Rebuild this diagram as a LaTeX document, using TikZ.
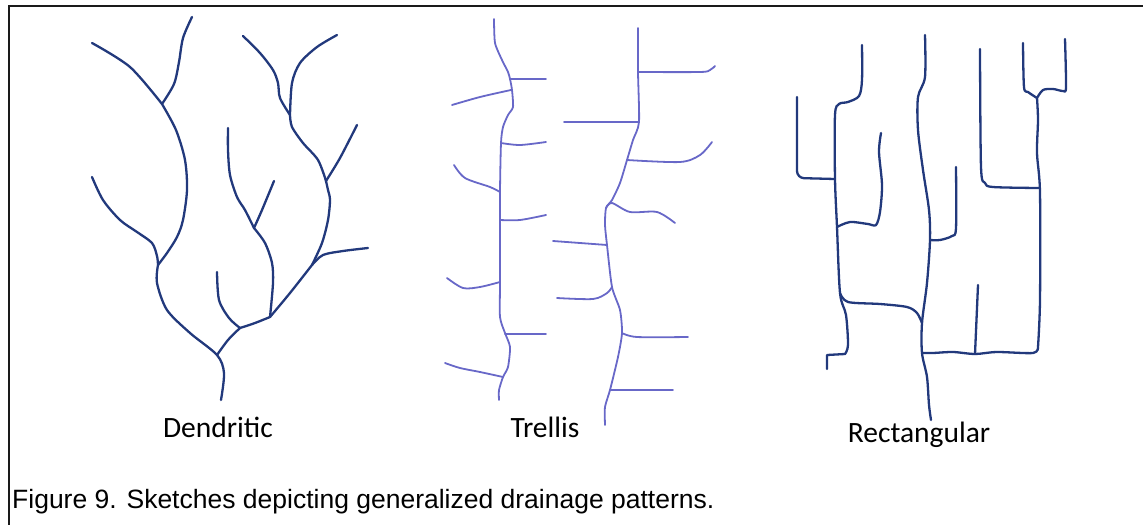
\documentclass[tikz,border=0pt]{standalone}
\usepackage{fontspec}
\setmainfont{Liberation Sans}
\newfontfamily\labelfont{Carlito}
\definecolor{navy}{HTML}{22397C}
\definecolor{trellisblue}{HTML}{6868C8}
\definecolor{framegray}{HTML}{1A1A1A}
\begin{document}
\begin{tikzpicture}[x=1pt,y=-1pt,
  stream/.style={draw=navy,line width=2.3pt,line cap=round,line join=round},
  trel/.style={draw=trellisblue,line width=1.8pt,line cap=round,line join=round},
  patname/.style={font=\labelfont\fontsize{29.5}{32}\selectfont,anchor=base,inner sep=0pt},
  caption/.style={font=\fontsize{26.5}{30}\selectfont,anchor=base west,inner sep=0pt}]
\useasboundingbox (0,0) rectangle (1143,525);
% frame
\draw[framegray,line width=2.8pt] (8,6) -- (1143,6);
\draw[framegray,line width=2.8pt] (9,6) -- (9,525);

% ---------------- dendritic ----------------
\begin{scope}[stream]
\draw plot[smooth] coordinates {(92,43) (130,67) (162,104)};
\draw plot[smooth] coordinates {(192,17) (183,38) (179,62) (174,84) (162,104)};
\draw plot[smooth] coordinates {(162,104) (176,130) (185,160) (187,190) (183,220) (177,237) (167,253) (158,265)};
\draw plot[smooth] coordinates {(92,177) (103,200) (120,220) (137,232) (152,243) (157,256) (158,265)};
\draw plot[smooth] coordinates {(158,265) (157,283) (167,310) (190,333) (217,355) (224,373) (221,400)};
\draw plot[smooth] coordinates {(240,328) (228,340) (217,355)};
\draw plot[smooth] coordinates {(217,272) (219,300) (229,318) (240,328)};
\draw plot[smooth] coordinates {(240,328) (255,323) (270,317)};
\draw plot[smooth] coordinates {(270,317) (290,293) (312,265)};
\draw plot[smooth] coordinates {(312,265) (323,255) (343,251) (368,248)};
\draw plot[smooth] coordinates {(312,265) (322,243) (328,220) (330,200) (328,190) (326,181)};
\draw plot[smooth] coordinates {(326,181) (340,158) (357,125)};
\draw plot[smooth] coordinates {(326,181) (318,160) (303,143) (292,127) (290,115)};
\draw plot[smooth] coordinates {(290,115) (280,98) (278,83) (273,70) (260,53) (243,36)};
\draw plot[smooth] coordinates {(290,115) (292,83) (300,63) (317,47) (337,35)};
\draw plot[smooth] coordinates {(270,317) (273,283) (272,263) (265,243) (254,228)};
\draw plot[smooth] coordinates {(254,228) (245,210) (237,197) (230,175) (228,150) (228,128)};
\draw plot[smooth] coordinates {(254,228) (262,210) (274,181)};
\end{scope}

% ---------------- trellis ----------------
\begin{scope}[trel]
% western strike valley
\draw plot[smooth,tension=0.4] coordinates {(494,19) (495,43) (502,60) (508,72) (510,79) (512,90) (513,107) (508,115) (503,127) (501,143) (500,193) (500,282) (500,317) (505,333) (510,347) (508,367) (503,377) (499,390) (499,400)};
\draw (510,79) -- (546,79);
\draw plot[smooth] coordinates {(511,90) (480,97) (452,105)};
\draw plot[smooth] coordinates {(501,143) (520,145) (546,142)};
\draw plot[smooth] coordinates {(454,165) (465,178) (490,187) (500,192)};
\draw plot[smooth] coordinates {(500,220) (520,220) (546,215)};
\draw plot[smooth] coordinates {(500,282) (480,287) (463,288) (447,278)};
\draw (505,334) -- (546,334);
\draw plot[smooth] coordinates {(445,363) (460,368) (480,372) (503,377)};
% eastern strike valley
\draw plot[smooth,tension=0.4] coordinates {(638,28) (638,72) (639,122) (633,140) (627,160) (620,183) (612,200) (606,208) (605,225) (607,245) (612,287) (620,310) (622,333) (618,357) (610,390) (605,407) (605,425)};
\draw plot[smooth] coordinates {(638,72) (700,72) (710,70) (715,66)};
\draw (564,122) -- (639,122);
\draw plot[smooth] coordinates {(627,160) (680,162) (700,155) (712,142)};
\draw plot[smooth] coordinates {(606,208) (612,203) (630,212) (657,212) (675,223)};
\draw plot[smooth] coordinates {(553,241) (580,243) (607,245)};
\draw plot[smooth] coordinates {(557,298) (593,299) (607,293) (612,287)};
\draw plot[smooth] coordinates {(622,333) (637,337) (688,337)};
\draw (610,390) -- (673,390);
\end{scope}

% ---------------- rectangular ----------------
\begin{scope}[stream]
\draw[rounded corners=7] (797,97) -- (797,178) -- (835,179);
\draw plot[smooth,tension=0.5] coordinates {(862,45) (862,80) (859,96) (848,102) (839,104) (835,115) (835,179) (837,227) (840,293) (846,315) (848,345) (845,354)} -- (827,355) -- (827,369);
\draw plot[smooth,tension=0.5] coordinates {(881,133) (879,152) (882,185) (880,212) (876,225) (868,224) (850,222) (837,227)};
\draw plot[smooth,tension=0.5] coordinates {(840,293) (848,302) (880,304) (907,307) (917,313) (922,323)};
\draw plot[smooth,tension=0.5] coordinates {(925,35) (925,77) (918,97) (918,130) (923,170) (929,210) (930,240) (927,283) (922,323) (922,353) (927,377) (929,405) (931,420)};
\draw plot[smooth,tension=0.5] coordinates {(956,167) (956,228) (952,236) (940,240) (930,240)};
\draw plot[smooth,tension=0.5] coordinates {(922,353) (933,353) (953,352) (975,354) (997,352) (1033,353) (1038,347)};
\draw (975,354) -- (978,285);
\draw plot[smooth,tension=0.5] coordinates {(1038,347) (1040,300) (1040,193) (1037,153) (1038,120) (1037,98)};
\draw plot[smooth,tension=0.5] coordinates {(980,49) (981,167) (985,183) (993,187) (1039,188)};
\draw plot[smooth,tension=0.5] coordinates {(1023,43) (1024,87) (1028,92) (1037,98)};
\draw plot[smooth,tension=0.5] coordinates {(1037,98) (1043,90) (1053,89) (1063,91) (1066,87) (1065,39)};
\end{scope}

% ---------------- labels ----------------
\node[patname] (dendritic) at (218,437) {Dendritic};
\node[patname] (trellis) at (545,437) {Trellis};
\node[patname] (rectangular) at (919,442) {Rectangular};
\node[caption] (figcaption) at (12,508) {Figure 9. Sketches depicting generalized drainage patterns.};
\end{tikzpicture}
\end{document}
